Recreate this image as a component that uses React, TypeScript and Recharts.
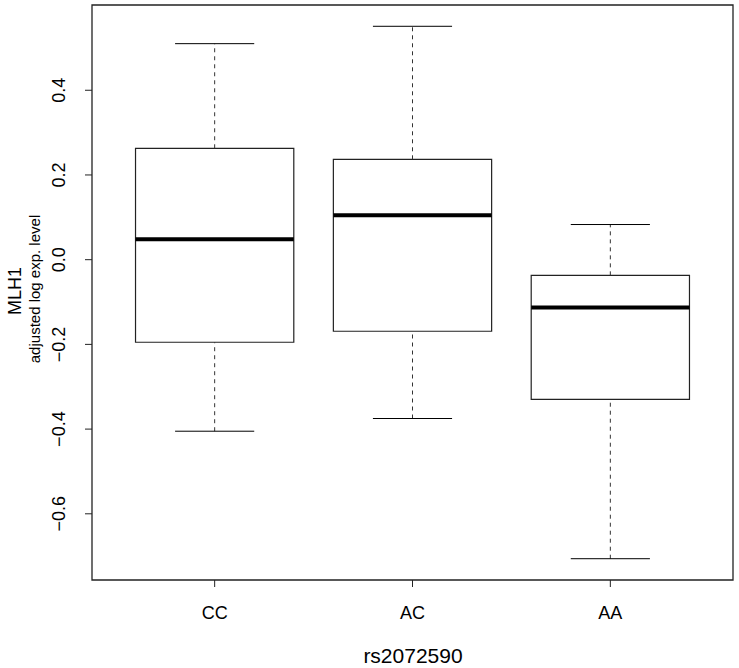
import { ComposedChart, XAxis, YAxis, ReferenceArea, ReferenceLine, Scatter } from 'recharts';

// genotype groups and their box statistics (adjusted log expression of MLH1)
const groups = ['CC', 'AC', 'AA'];
const lowWhiskers = [-0.405, -0.375, -0.706];
const lowerQuartiles = [-0.195, -0.169, -0.33];
const medians = [0.048, 0.105, -0.113];
const upperQuartiles = [0.263, 0.237, -0.037];
const highWhiskers = [0.51, 0.551, 0.083];
const yTicks = [-0.6, -0.4, -0.2, 0.0, 0.2, 0.4];

const rows = groups.map((group, i) => ({
  pos: i + 1,
  group,
  lo: lowWhiskers[i],
  q1: lowerQuartiles[i],
  median: medians[i],
  q3: upperQuartiles[i],
  hi: highWhiskers[i],
}));

// R-style axis ranges: data range padded by 4%
const yMin = Math.min(...lowWhiskers);
const yMax = Math.max(...highWhiskers);
const yPad = (yMax - yMin) * 0.04;
const yDomain: [number, number] = [yMin - yPad, yMax + yPad];
const xPad = groups.length * 0.04;
const xDomain: [number, number] = [0.5 - xPad, groups.length + 0.5 + xPad];

const W = 739;
const H = 668;
const FONT = '"Liberation Sans", Arial, Helvetica, sans-serif';

const fmt = (v: number) => (v < 0 ? '\u2212' + Math.abs(v).toFixed(1) : v.toFixed(1));

const YTick = (props: any) => {
  const { x, y, payload } = props;
  const bx = x - 18;
  return (
    <text
      x={bx}
      y={y}
      transform={`rotate(-90, ${bx}, ${y})`}
      textAnchor="middle"
      fontSize={18}
      fill="#000"
    >
      {fmt(payload.value)}
    </text>
  );
};

export default function App() {
  return (
    <div
      style={{
        position: 'absolute',
        left: 0,
        top: 0,
        width: W,
        height: H,
        background: '#fff',
        fontFamily: FONT,
      }}
    >
      <ComposedChart
        width={W}
        height={H}
        data={rows}
        margin={{ top: 5, right: 6, bottom: 0, left: 0 }}
      >
        <XAxis
          dataKey="pos"
          type="number"
          domain={xDomain}
          ticks={[1, 2, 3]}
          tickFormatter={(v: number) => groups[v - 1]}
          allowDataOverflow
          height={88}
          axisLine={false}
          tickLine={{ stroke: '#222' }}
          tickSize={7}
          tickMargin={19}
          tick={{ fontSize: 18, fill: '#000' }}
        />
        <YAxis
          type="number"
          domain={yDomain}
          ticks={yTicks}
          allowDataOverflow
          width={92}
          axisLine={false}
          tickLine={{ stroke: '#222' }}
          tickSize={7}
          tick={<YTick />}
        />
        {/* plot frame */}
        <ReferenceArea
          x1={xDomain[0]}
          x2={xDomain[1]}
          y1={yDomain[0]}
          y2={yDomain[1]}
          fill="none"
          stroke="#222"
          strokeWidth={1.3}
          ifOverflow="visible"
        />
        {rows.map((r) => (
          <g key={r.group}>
            <ReferenceLine
              segment={[{ x: r.pos, y: r.q3 }, { x: r.pos, y: r.hi }]}
              stroke="#333"
              strokeDasharray="4 4"
              ifOverflow="visible"
            />
            <ReferenceLine
              segment={[{ x: r.pos, y: r.lo }, { x: r.pos, y: r.q1 }]}
              stroke="#333"
              strokeDasharray="4 4"
              ifOverflow="visible"
            />
            <ReferenceLine
              segment={[{ x: r.pos - 0.2, y: r.hi }, { x: r.pos + 0.2, y: r.hi }]}
              stroke="#000"
              ifOverflow="visible"
            />
            <ReferenceLine
              segment={[{ x: r.pos - 0.2, y: r.lo }, { x: r.pos + 0.2, y: r.lo }]}
              stroke="#000"
              ifOverflow="visible"
            />
            <ReferenceArea
              x1={r.pos - 0.4}
              x2={r.pos + 0.4}
              y1={r.q1}
              y2={r.q3}
              fill="#fff"
              fillOpacity={1}
              stroke="#222"
              strokeWidth={1.2}
              ifOverflow="visible"
            />
            <ReferenceLine
              segment={[{ x: r.pos - 0.4, y: r.median }, { x: r.pos + 0.4, y: r.median }]}
              stroke="#000"
              strokeWidth={4}
              ifOverflow="visible"
            />
          </g>
        ))}
        <Scatter dataKey="median" isAnimationActive={false} shape={() => <g />} />
      </ComposedChart>
      <svg
        width={W}
        height={H}
        style={{ position: 'absolute', left: 0, top: 0, pointerEvents: 'none' }}
      >
        <text x={413} y={663} textAnchor="middle" fontSize={21} fill="#000">
          rs2072590
        </text>
        <text
          x={21}
          y={291}
          transform="rotate(-90, 21, 291)"
          textAnchor="middle"
          fontSize={18}
          fill="#000"
        >
          MLH1
        </text>
        <text
          x={40}
          y={289}
          transform="rotate(-90, 40, 289)"
          textAnchor="middle"
          fontSize={15}
          fill="#000"
        >
          adjusted log exp. level
        </text>
      </svg>
    </div>
  );
}
